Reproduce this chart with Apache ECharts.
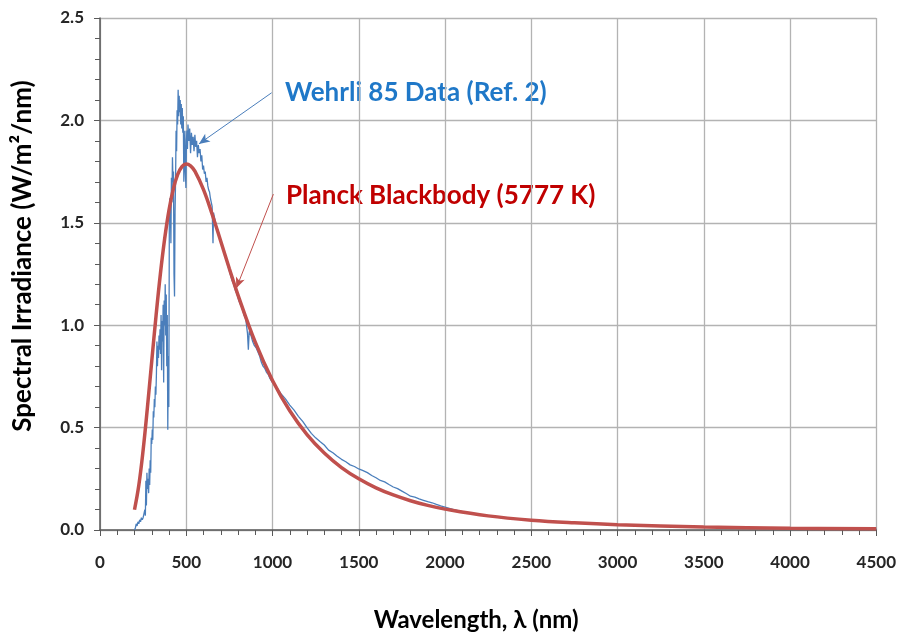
<!DOCTYPE html>
<html>
<head>
<meta charset="utf-8">
<script src="https://cdn.jsdelivr.net/npm/echarts@6/dist/echarts.min.js"></script>
<style>html,body{margin:0;padding:0;background:#fff}#c{width:899px;height:637px}</style>
</head>
<body>
<div id="c"></div>
<script>
// Wehrli 85 measured spectrum [wavelength nm, W/m2/nm]
const wehrliData = [
[200,0.00],[205,0.01],[210,0.03],[215,0.02],[220,0.04],[225,0.03],[230,0.05],[235,0.04],[240,0.06],[245,0.05],
[250,0.06],[255,0.08],[260,0.10],[263,0.07],[266,0.24],[269,0.12],[272,0.28],[275,0.20],[278,0.25],[282,0.18],
[285,0.30],[288,0.22],[291,0.34],[294,0.28],[297,0.45],[300,0.42],[303,0.49],[306,0.44],[309,0.58],[312,0.55],
[315,0.64],[318,0.60],[321,0.70],[324,0.66],[327,0.76],[330,0.92],[333,0.80],[336,0.90],[339,0.84],[342,0.95],
[345,0.88],[348,0.98],[351,0.86],[354,1.05],[357,0.78],[360,1.02],[363,0.92],[366,1.10],[369,0.72],[372,1.12],
[375,1.00],[378,1.20],[381,0.95],[384,1.15],[387,0.80],[390,1.05],[393,0.49],[396,0.85],[399,0.60],[402,1.55],
[405,1.62],[408,1.58],[411,1.40],[414,1.72],[417,1.60],[420,1.82],[423,1.70],[426,1.75],[429,1.25],[432,1.14],
[435,1.55],[438,1.70],[441,1.95],[444,1.85],[447,2.05],[450,1.98],[453,2.15],[456,2.02],[459,2.12],[462,2.04],
[465,2.10],[468,1.98],[471,2.08],[474,1.96],[477,2.06],[480,1.94],[483,2.02],[486,1.70],[489,1.80],[492,1.95],
[495,1.75],[498,1.67],[501,1.90],[504,1.95],[507,1.86],[510,1.98],[515,1.90],[520,1.96],[525,1.84],[530,1.94],
[535,1.88],[540,1.92],[545,1.85],[550,1.93],[555,1.87],[560,1.90],[565,1.82],[570,1.88],[575,1.84],[580,1.86],
[585,1.80],[590,1.83],[595,1.76],[600,1.78],[605,1.74],[610,1.75],[615,1.70],[620,1.72],[625,1.68],[630,1.66],
[635,1.65],[640,1.62],[645,1.60],[650,1.58],[655,1.40],[658,1.55],[665,1.52],[675,1.48],[685,1.46],[695,1.42],
[705,1.40],[715,1.37],[725,1.34],[735,1.31],[745,1.28],[755,1.25],[765,1.22],[775,1.20],[785,1.17],[795,1.15],
[805,1.12],[815,1.10],[825,1.08],[835,1.05],[845,1.03],[855,0.96],[860,0.88],[865,0.97],[875,0.95],[885,0.92],
[895,0.90],[905,0.89],[915,0.87],[925,0.85],[935,0.82],[945,0.80],[955,0.79],[965,0.77],[975,0.76],[985,0.74],
[1000,0.72],[1025,0.695],[1050,0.665],[1075,0.64],[1100,0.61],[1125,0.585],[1150,0.555],[1175,0.53],[1200,0.50],
[1225,0.472],[1250,0.45],[1275,0.432],[1300,0.415],[1325,0.39],[1350,0.377],[1375,0.36],[1400,0.345],[1425,0.333],
[1450,0.318],[1475,0.31],[1500,0.298],[1525,0.29],[1550,0.28],[1575,0.266],[1600,0.255],[1625,0.242],[1650,0.235],
[1675,0.222],[1700,0.21],[1725,0.202],[1750,0.19],[1775,0.178],[1800,0.165],[1825,0.16],[1850,0.152],[1875,0.145],
[1900,0.138],[1925,0.133],[1950,0.125],[1975,0.118],[2000,0.112],[2050,0.10],[2100,0.09],[2200,0.075],[2300,0.063],
[2400,0.055],[2500,0.048],[2750,0.036],[3000,0.026],[3500,0.015],[4000,0.009],[4500,0.006]
];
// Planck blackbody (5777 K) curve [wavelength nm, W/m2/nm]
const planckData = [
[200,0.099],[225,0.218],[250,0.390],[275,0.599],[300,0.825],[325,1.047],[350,1.250],[375,1.423],[400,1.562],
[425,1.665],[450,1.735],[475,1.774],[500,1.787],[525,1.778],[550,1.752],[600,1.662],[650,1.542],[700,1.410],
[750,1.276],[800,1.147],[900,0.917],[1000,0.730],[1100,0.582],[1200,0.466],[1300,0.376],[1400,0.305],[1500,0.250],
[1600,0.206],[1700,0.171],[1800,0.143],[1900,0.120],[2000,0.102],[2250,0.069],[2500,0.048],[2750,0.035],
[3000,0.026],[3500,0.0148],[4000,0.0091],[4500,0.0059]
];
const xTicks = {min:0, max:4500, interval:500};
const yTicks = {min:0, max:2.5, interval:0.5};
const wehrliLabel = 'Wehrli 85 Data (Ref. 2)';
const planckLabel = 'Planck Blackbody (5777 K)';
const wehrliArrow = [[995,2.135],[573,1.885]];
const planckArrow = [[1005,1.64],[790,1.18]];

const chart = echarts.init(document.getElementById('c'));
const FONT = 'Lato';
const labelStyle = {fontFamily:FONT, fontWeight:'bold', fontSize:17, color:'#262626'};
chart.setOption({
  animation:false,
  grid:{left:100, right:22, top:18, bottom:106},
  xAxis:{
    type:'value', min:xTicks.min, max:xTicks.max, interval:xTicks.interval,
    name:'Wavelength, λ (nm)', nameLocation:'middle', nameGap:78,
    nameTextStyle:{fontFamily:FONT, fontWeight:'bold', fontSize:24, color:'#000', padding:[0,24,0,0]},
    axisLine:{lineStyle:{color:'#595959', width:1.5}},
    axisTick:{show:true, inside:false, length:6, lineStyle:{color:'#595959'}},
    minorTick:{show:true, splitNumber:5, length:5, lineStyle:{color:'#595959'}},
    axisLabel:{...labelStyle, margin:24, formatter:v=>String(v)},
    splitLine:{show:true, lineStyle:{color:'#B3B3B3', width:1.3}}
  },
  yAxis:{
    type:'value', min:yTicks.min, max:yTicks.max, interval:yTicks.interval,
    name:'Spectral Irradiance (W/m²/nm)', nameLocation:'middle', nameGap:64, nameRotate:90,
    nameTextStyle:{fontFamily:FONT, fontWeight:'bold', fontSize:26, color:'#000', padding:[0,0,0,36]},
    axisLine:{show:true, lineStyle:{color:'#595959', width:1.5}},
    axisTick:{show:true, inside:false, length:6, lineStyle:{color:'#595959'}},
    minorTick:{show:true, splitNumber:5, length:5, lineStyle:{color:'#595959'}},
    axisLabel:{...labelStyle, margin:16, formatter:v=>v.toFixed(1)},
    splitLine:{show:true, lineStyle:{color:'#B3B3B3', width:1.3}}
  },
  series:[
    {
      type:'line', data:wehrliData, showSymbol:false, symbol:'none',
      lineStyle:{color:'#4A7EBB', width:1.3}, z:2,
      markLine:{
        silent:true, symbol:['none','arrow'], symbolSize:[7,11],
        label:{show:false},
        lineStyle:{color:'#4A7EBB', width:1, type:'solid'},
        data:[[{coord:wehrliArrow[0]},{coord:wehrliArrow[1]}]]
      }
    },
    {
      type:'line', data:planckData, showSymbol:false, symbol:'none', smooth:0.4,
      lineStyle:{color:'#C0504D', width:3.5}, z:3,
      markLine:{
        silent:true, symbol:['none','arrow'], symbolSize:[7,11],
        label:{show:false},
        lineStyle:{color:'#C0504D', width:1, type:'solid'},
        data:[[{coord:planckArrow[0]},{coord:planckArrow[1]}]]
      }
    }
  ],
  graphic:[
    {type:'text', left:285, top:80, style:{text:wehrliLabel, fontFamily:FONT, fontWeight:'bold', fontSize:26, fill:'#1F78C8'}},
    {type:'text', left:286, top:183, style:{text:planckLabel, fontFamily:FONT, fontWeight:'bold', fontSize:26, fill:'#C00000'}}
  ]
});
</script>
</body>
</html>
